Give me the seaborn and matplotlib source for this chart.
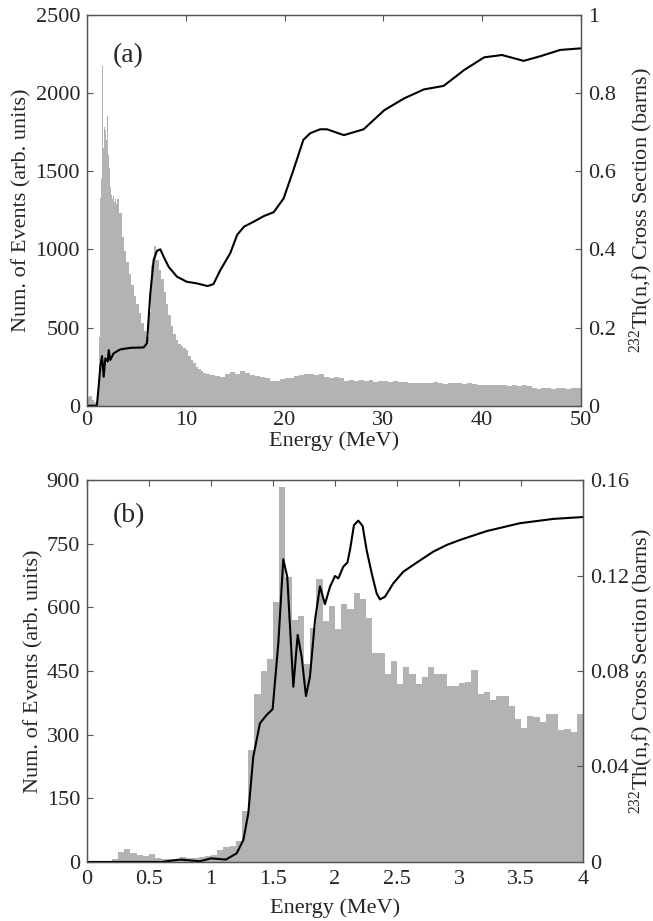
import numpy as np
import pandas as pd
import matplotlib
matplotlib.use("Agg")
import matplotlib.pyplot as plt
import seaborn as sns

# ---------------- Panel (a) data ----------------
# histogram bin edges (MeV): 0.25 up to 1, 0.1 from 1 to 3, 0.25 to 12, 0.5 to 50
edges_a = np.concatenate([
    [0.0, 0.25, 0.5, 0.75],
    np.round(np.arange(1.0, 3.0, 0.1), 2),
    np.round(np.arange(3.0, 12.0, 0.25), 2),
    np.round(np.arange(12.0, 50.01, 0.5), 2),
])
counts_a_low = [55, 65, 35, 25]
counts_a_peak1 = [30, 80, 440, 1330, 1450, 2170, 1650, 1780, 1760, 1700,
                  1850, 1600, 1520, 1400, 1350, 1320, 1340, 1300, 1320, 1290]
counts_a_mid = [1320, 1230, 1080, 990, 920, 840, 770, 700, 650, 590, 530, 480,
                440, 600, 900, 1020, 930, 870, 810, 730, 650, 580, 510, 460,
                420, 395, 380, 370, 355, 320, 290, 270, 250, 235, 225, 210]
counts_a_tail = [205, 195, 190, 185, 200, 215, 205, 225, 210, 195,
                 190, 185, 180, 160, 155, 170, 175, 180, 190, 195,
                 205, 200, 195, 200, 185, 180, 185, 175, 160, 165,
                 160, 162, 158, 165, 150, 155, 158, 150, 155, 150,
                 152, 148, 145, 148, 142, 145, 150, 142, 140, 145,
                 148, 142, 138, 145, 140, 135, 132, 135, 130, 133,
                 135, 128, 130, 127, 130, 125, 110, 105, 110, 112,
                 108, 115, 110, 108, 112, 110]
counts_a = counts_a_low + counts_a_peak1 + counts_a_mid + counts_a_tail

energy_xs_a = [0, 1.0, 1.18, 1.35, 1.52, 1.69, 1.85, 2.1, 2.2, 2.36, 2.7, 3.37,
               4.39, 5.74, 6.07, 6.41, 6.75, 7.08, 7.42, 7.76, 8.27, 9.11, 10.1,
               11.1, 12.2, 12.8, 13.5, 14.5, 15.2, 15.9, 16.9, 17.9, 18.9, 19.9,
               20.9, 21.9, 22.6, 23.6, 24.3, 26.0, 28.0, 30.1, 32.1, 34.1, 36.1,
               38.2, 40.2, 42.0, 44.2, 45.9, 47.9, 50.0]
xs_a = [0, 0, 0.049, 0.10, 0.127, 0.074, 0.121, 0.113, 0.142, 0.117, 0.134,
        0.144, 0.148, 0.149, 0.16, 0.287, 0.373, 0.396, 0.40, 0.381, 0.355,
        0.33, 0.317, 0.313, 0.306, 0.311, 0.347, 0.39, 0.437, 0.458, 0.471,
        0.485, 0.495, 0.53, 0.603, 0.68, 0.697, 0.707, 0.707, 0.692, 0.707,
        0.756, 0.786, 0.809, 0.818, 0.859, 0.891, 0.897, 0.882, 0.894, 0.91,
        0.914]

# ---------------- Panel (b) data ----------------
edges_b = np.round(np.arange(0.0, 4.001, 0.05), 2)
counts_b = [0, 0, 0, 0, 7, 23, 31, 21, 16, 13,
            18, 9, 8, 8, 8, 12, 9, 10, 12, 15,
            17, 29, 35, 38, 50, 121, 264, 395, 450, 478,
            612, 884, 672, 570, 580, 467, 551, 667, 568, 603,
            549, 607, 595, 633, 620, 576, 492, 492, 442, 474,
            419, 459, 442, 420, 437, 460, 442, 442, 415, 415,
            421, 424, 452, 395, 400, 382, 391, 390, 367, 337,
            315, 344, 342, 329, 349, 348, 311, 314, 306, 348]

energy_xs_b = [0, 0.6, 0.75, 0.91, 1.0, 1.12, 1.207, 1.261, 1.301, 1.341, 1.395,
               1.449, 1.497, 1.543, 1.583, 1.615, 1.664, 1.699, 1.731, 1.766,
               1.798, 1.839, 1.879, 1.919, 1.96, 2.0, 2.027, 2.067, 2.1, 2.121,
               2.153, 2.188, 2.223, 2.255, 2.296, 2.336, 2.363, 2.403, 2.47,
               2.551, 2.659, 2.793, 2.901, 3.008, 3.223, 3.49, 3.758, 4.0]
xs_b = [0, 0, 0.001, 0.0003, 0.0015, 0.001, 0.0036, 0.0092, 0.0204, 0.0441,
        0.0581, 0.0616, 0.064, 0.0916, 0.1268, 0.1195, 0.0734, 0.0951, 0.086,
        0.0695, 0.0776, 0.1014, 0.1155, 0.108, 0.1153, 0.1198, 0.1188, 0.1237,
        0.1254, 0.1307, 0.1411, 0.143, 0.1407, 0.1307, 0.1209, 0.1125, 0.110,
        0.1111, 0.1167, 0.1216, 0.1254, 0.130, 0.1328, 0.1349, 0.1386, 0.1419,
        0.1437, 0.1445]

# tick labels
xticks_a = [0, 10, 20, 30, 40, 50]
yticks_a = [0, 500, 1000, 1500, 2000, 2500]
rticks_a = [0, 0.2, 0.4, 0.6, 0.8, 1]
rlabels_a = ["0", "0.2", "0.4", "0.6", "0.8", "1"]
xticks_b = [0, 0.5, 1, 1.5, 2, 2.5, 3, 3.5, 4]
xlabels_b = ["0", "0.5", "1", "1.5", "2", "2.5", "3", "3.5", "4"]
yticks_b = [0, 150, 300, 450, 600, 750, 900]
rticks_b = [0, 0.04, 0.08, 0.12, 0.16]
rlabels_b = ["0", "0.04", "0.08", "0.12", "0.16"]

# ---------------- styling ----------------
sns.set_style("white")
plt.rcParams['font.family'] = ['Liberation Serif', 'DejaVu Serif']
plt.rcParams['mathtext.fontset'] = 'custom'
plt.rcParams['mathtext.rm'] = 'Liberation Serif'
plt.rcParams['mathtext.it'] = 'Liberation Serif:italic'

FS = 16
SPINE = '#555555'
HIST = '#b3b3b3'

fig = plt.figure(figsize=(6.53, 9.21), dpi=100)
ax_a = fig.add_axes([0.1332, 0.5595, 0.7565, 0.4245])
ax_b = fig.add_axes([0.1332, 0.0641, 0.7596, 0.4147])


def draw_panel(ax, edges, counts, ex, xs, xlim, ylim, rlim, xt, xtl, yt, rt, rtl,
               tag, tag_y, xpad, xlab_y, ylab_x, rlab_x):
    edges = [float(e) for e in edges]
    centers = [(edges[i] + edges[i + 1]) / 2 for i in range(len(edges) - 1)]
    df = pd.DataFrame({"Energy": centers, "Counts": counts})
    sns.histplot(data=df, x="Energy", weights="Counts", bins=edges, ax=ax,
                 element="step", fill=True, color=HIST, alpha=1, linewidth=0)
    ax.set_xlim(*xlim)
    ax.set_ylim(*ylim)
    ax.set_xticks(xt)
    ax.set_xticklabels(xtl)
    ax.set_yticks(yt)
    ax.set_yticklabels([str(v) for v in yt])
    ax.tick_params(direction='in', length=4, width=0.8, color=SPINE,
                   top=True, right=False, labelsize=FS, pad=5)
    ax.tick_params(axis='x', pad=xpad)
    ax.set_xlabel("Energy (MeV)", fontsize=FS)
    ax.xaxis.set_label_coords(0.5, xlab_y)
    ax.set_ylabel("Num. of Events (arb. units)", fontsize=FS, va='center')
    ax.yaxis.set_label_coords(ylab_x, 0.5)
    ax2 = ax.twinx()
    dl = pd.DataFrame({"Energy": ex, "XS": xs})
    sns.lineplot(data=dl, x="Energy", y="XS", ax=ax2, color='black', linewidth=1.5)
    ax2.set_ylim(*rlim)
    ax2.set_xlim(*xlim)
    ax2.set_yticks(rt)
    ax2.set_yticklabels(rtl)
    ax2.tick_params(direction='in', length=4, width=0.8, color=SPINE,
                    labelsize=FS, pad=5)
    ax2.set_ylabel(r"$^{\mathrm{232}}$Th(n,f) Cross Section (barns)", fontsize=FS,
                   rotation=90, va='center')
    ax2.yaxis.set_label_coords(rlab_x, 0.5)
    for a in (ax, ax2):
        for s in a.spines.values():
            s.set_color(SPINE)
            s.set_linewidth(0.9)
            s.set_visible(True)
    ax.text(0.052, tag_y, tag, transform=ax.transAxes, fontsize=20,
            ha='left', va='center')


draw_panel(ax_a, edges_a, counts_a, energy_xs_a, xs_a, (0, 50), (0, 2500), (0, 1),
           xticks_a, [str(v) for v in xticks_a], yticks_a, rticks_a, rlabels_a,
           "(a)", 0.895, 3.5, -0.066, -0.1316, 1.1215)
draw_panel(ax_b, edges_b, counts_b, energy_xs_b, xs_b, (0, 4), (0, 900), (0, 0.16),
           xticks_b, xlabels_b, yticks_b, rticks_b, rlabels_b,
           "(b)", 0.908, 5.5, -0.094, -0.107, 1.117)

fig.savefig("out.png", dpi=100)
